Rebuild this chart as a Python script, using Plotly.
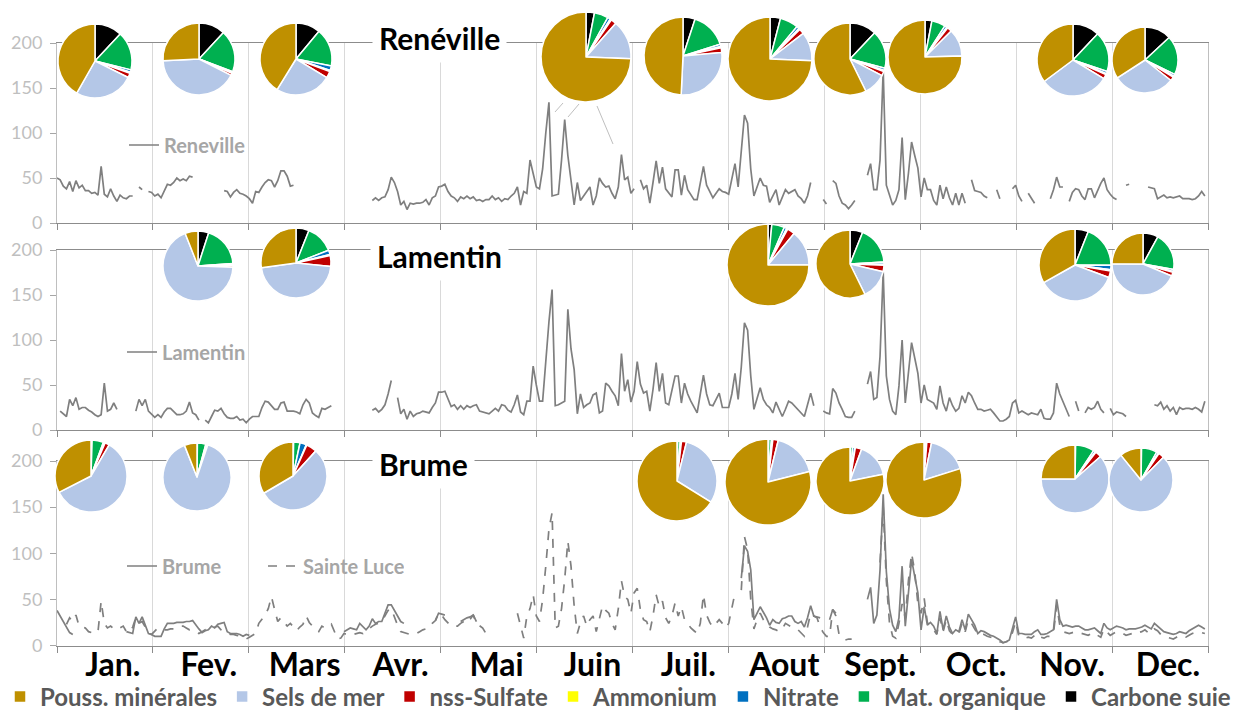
import plotly.graph_objects as go

W, H = 1235, 713

# ---------------- data ----------------
months = ["Jan.", "Fev.", "Mars", "Avr.", "Mai", "Juin", "Juil.", "Aout", "Sept.", "Oct.", "Nov.", "Dec."]
comp_labels = ["Pouss. minérales", "Sels de mer", "nss-Sulfate", "Ammonium", "Nitrate", "Mat. organique", "Carbone suie"]
comp_colors = ["#BF9000", "#B4C7E7", "#C00000", "#FFFF00", "#0070C0", "#00B050", "#000000"]

# daily concentrations (day of year, value); None = no data
reneville = [(0,50),(1,48),(2,41),(3,38),(4,46),(5,35),(6,47),(7,39),(8,42),(9,36),(10,36),(11,33),(12,34),(13,31),(14,63),(15,32),(16,29),(17,38),(18,30),(19,24),(20,31),(21,28),(22,27),(23,30),(24,30),(25,None),
 (26,40),(27,37),(28,None),(29,35),(30,34),(31,30),(32,32),(33,28),(34,35),(35,43),(36,42),(37,45),(38,50),(39,47),(40,49),(41,47),(42,52),(43,51),(44,None),
 (53,36),(54,35),(55,29),(56,34),(57,37),(58,33),(59,32),(60,30),(61,27),(62,22),(63,35),(64,34),(65,40),(66,45),(67,48),(68,47),(69,40),(70,47),(71,58),(72,58),(73,52),(74,41),(75,42),(76,None),
 (100,25),(101,28),(102,25),(103,28),(104,29),(105,37),(106,51),(107,45),(108,35),(109,20),(110,24),(111,15),(112,22),(113,21),(114,22),(115,22),(116,23),(117,26),(118,20),(119,28),(120,30),(121,40),(122,41),(123,43),(124,35),(125,30),(126,28),(127,24),(128,29),(129,27),(130,30),(131,27),(132,29),(133,25),(134,26),(135,24),(136,26),(137,26),(138,30),(139,26),(140,28),(141,24),(142,27),(143,26),(144,30),(145,33),(146,40),(147,20),(148,35),(149,33),(150,70),(151,55),(152,40),(153,38),(154,60),(155,100),(156,134),(157,30),(158,31),(159,32),(160,70),(161,115),(162,75),(163,50),(164,20),(165,45),(166,25),(167,30),(168,35),(169,40),(170,20),(171,30),(172,50),(173,44),(174,40),(175,41),(176,33),(177,27),(178,40),(179,76),(180,48),(181,51),(182,33),(183,38),(184,None),
 (185,48),(186,38),(187,42),(188,22),(189,45),(190,69),(191,44),(192,62),(193,38),(194,33),(195,29),(196,59),(197,59),(198,31),(199,53),(200,37),(201,32),(202,26),(203,26),(204,45),(205,63),(206,42),(207,35),(208,28),(209,33),(210,38),(211,35),(212,34),(213,32),(214,50),(215,66),(216,40),(217,80),(218,120),(219,111),(220,60),(221,30),(222,40),(223,50),(224,42),(225,41),(226,23),(227,30),(228,37),(229,20),(230,28),(231,37),(232,33),(233,35),(234,37),(235,30),(236,27),(237,22),(238,30),(239,45),(240,None),
 (243,26),(244,21),(245,None),(246,47),(247,44),(248,30),(249,22),(250,20),(251,16),(252,20),(253,25),(254,None),
 (257,53),(258,66),(259,37),(260,37),(261,70),(262,170),(263,42),(264,30),(265,20),(266,25),(267,37),(268,95),(269,26),(270,55),(271,90),(272,75),(273,61),(274,29),(275,50),(276,37),(277,37),(278,25),(279,20),(280,42),(281,27),(282,40),(283,28),(284,20),(285,33),(286,20),(287,33),(288,22),(289,None),
 (290,48),(291,36),(292,35),(293,34),(294,30),(295,28),(296,None),(298,37),(299,27),(300,None),(303,38),(304,42),(305,30),(306,24),(307,None),(308,33),(309,28),(310,22),(311,None),
 (315,27),(316,37),(317,51),(318,40),(319,40),(320,None),(321,24),(322,34),(323,38),(324,37),(325,30),(326,26),(327,38),(328,38),(329,28),(330,37),(331,44),(332,50),(333,37),(334,32),(335,28),(336,26),(337,None),
 (339,42),(340,43),(341,None),(346,40),(347,39),(348,38),(349,27),(350,29),(351,31),(352,28),(353,29),(354,28),(355,29),(356,30),(357,27),(358,27),(359,27),(360,26),(361,27),(362,30),(363,35),(364,30)]

lamentin = [(1,21),(2,18),(3,15),(4,34),(5,27),(6,36),(7,23),(8,25),(9,25),(10,22),(11,20),(12,17),(13,15),(14,17),(15,52),(16,21),(17,23),(18,30),(19,23),(20,None),
 (25,21),(26,34),(27,27),(28,34),(29,21),(30,17),(31,14),(32,17),(33,14),(34,20),(35,24),(36,24),(37,20),(38,17),(39,17),(40,18),(41,21),(42,31),(43,19),(44,17),(45,11),(46,None),
 (47,11),(48,8),(49,15),(50,22),(51,21),(52,24),(53,18),(54,14),(55,13),(56,13),(57,15),(58,11),(59,12),(60,8),(61,12),(62,15),(63,15),(64,15),(65,25),(66,32),(67,31),(68,27),(69,23),(70,23),(71,30),(72,31),(73,21),(74,21),(75,21),(76,20),(77,18),(78,28),(79,34),(80,30),(81,19),(82,16),(83,14),(84,24),(85,23),(86,25),(87,27),(88,None),
 (100,22),(101,24),(102,20),(103,23),(104,28),(105,40),(106,55),(107,None),
 (108,36),(109,18),(110,23),(111,12),(112,21),(113,15),(114,18),(115,19),(116,21),(117,20),(118,19),(119,25),(120,30),(121,42),(122,42),(123,43),(124,34),(125,26),(126,28),(127,23),(128,27),(129,23),(130,27),(131,25),(132,27),(133,28),(134,21),(135,20),(136,19),(137,18),(138,21),(139,24),(140,21),(141,28),(142,27),(143,22),(144,20),(145,28),(146,39),(147,20),(148,17),(149,32),(150,32),(151,71),(152,50),(153,32),(154,32),(155,80),(156,120),(157,156),(158,27),(159,28),(160,30),(161,32),(162,134),(163,90),(164,67),(165,18),(166,40),(167,25),(168,28),(169,30),(170,39),(171,41),(172,19),(173,21),(174,52),(175,49),(176,43),(177,38),(178,27),(179,85),(180,43),(181,56),(182,31),(183,43),(184,76),(185,51),(186,41),(187,43),(188,21),(189,45),(190,75),(191,43),(192,63),(193,30),(194,28),(195,45),(196,60),(197,60),(198,30),(199,52),(200,40),(201,32),(202,25),(203,19),(204,40),(205,61),(206,40),(207,28),(208,27),(209,35),(210,41),(211,25),(212,25),(213,25),(214,40),(215,63),(216,34),(217,70),(218,119),(219,111),(220,60),(221,23),(222,35),(223,47),(224,34),(225,28),(226,25),(227,19),(228,31),(229,22),(230,15),(231,23),(232,32),(233,30),(234,26),(235,22),(236,18),(237,15),(238,28),(239,41),(240,27),(241,None),
 (243,21),(244,19),(245,18),(246,46),(247,41),(248,30),(249,23),(250,15),(251,14),(252,14),(253,21),(254,None),
 (257,51),(258,65),(259,34),(260,36),(261,82),(262,176),(263,60),(264,34),(265,21),(266,17),(267,49),(268,100),(269,30),(270,60),(271,97),(272,80),(273,63),(274,30),(275,50),(276,34),(277,32),(278,30),(279,23),(280,49),(281,30),(282,21),(283,36),(284,27),(285,21),(286,24),(287,38),(288,30),(289,42),(290,38),(291,30),(292,23),(293,23),(294,21),(295,22),(296,23),(297,19),(298,15),(299,10),(300,10),(301,12),(302,15),(303,30),(304,33),(305,19),(306,21),(307,19),(308,17),(309,19),(310,18),(311,17),(312,23),(313,13),(314,12),(315,12),(316,19),(317,52),(318,40),(319,32),(320,23),(321,15),(322,None),
 (323,32),(324,21),(325,None),(326,19),(327,25),(328,23),(329,25),(330,32),(331,23),(332,19),(333,None),(334,24),(335,17),(336,20),(337,19),(338,18),(339,15),(340,None),
 (348,28),(349,27),(350,31),(351,23),(352,27),(353,21),(354,25),(355,17),(356,25),(357,23),(358,24),(359,24),(360,23),(361,25),(362,23),(363,20),(364,32)]

brume = [(0,38),(1,32),(2,26),(3,20),(4,14),(5,12),(6,None),
 (22,15),(23,14),(24,13),(25,31),(26,24),(27,31),(28,21),(29,13),(30,12),(31,10),(32,10),(33,10),(34,18),(35,24),(36,24),(37,24),(38,25),(39,25),(40,25),(41,26),(42,26),(43,27),(44,22),(45,18),(46,14),(47,16),(48,17),(49,21),(50,19),(51,23),(52,24),(53,25),(54,15),(55,13),(56,13),(57,13),(58,12),(59,10),(60,12),(61,11),(62,None),
 (91,15),(92,17),(93,19),(94,18),(95,17),(96,24),(97,20),(98,17),(99,21),(100,29),(101,24),(102,26),(103,26),(104,35),(105,44),(106,44),(107,38),(108,33),(109,26),(110,24),(111,None),
 (120,27),(121,35),(122,34),(123,33),(124,None),(128,26),(129,28),(130,30),(131,31),(132,33),(133,26),(134,None),
 (217,73),(218,108),(219,102),(220,82),(221,28),(222,35),(223,42),(224,36),(225,30),(226,22),(227,28),(228,25),(229,24),(230,29),(231,30),(232,32),(233,32),(234,26),(235,24),(236,26),(237,20),(238,30),(239,43),(240,32),(241,31),(242,30),(243,None),
 (245,28),(246,39),(247,35),(248,None),
 (257,50),(258,63),(259,24),(260,33),(261,82),(262,164),(263,80),(264,40),(265,22),(266,15),(267,30),(268,86),(269,21),(270,55),(271,93),(272,75),(273,57),(274,17),(275,42),(276,22),(277,25),(278,21),(279,13),(280,37),(281,17),(282,32),(283,20),(284,13),(285,17),(286,15),(287,28),(288,17),(289,34),(290,28),(291,22),(292,13),(293,16),(294,15),(295,13),(296,11),(297,10),(298,8),(299,6),(300,3),(301,4),(302,6),(303,18),(304,31),(305,13),(306,13),(307,12),(308,12),(309,12),(310,15),(311,17),(312,12),(313,12),(314,13),(315,15),(316,17),(317,50),(318,28),(319,21),(320,22),(321,21),(322,20),(323,21),(324,21),(325,19),(326,17),(327,17),(328,18),(329,19),(330,16),(331,13),(332,24),(333,19),(334,17),(335,19),(336,21),(337,20),(338,19),(339,17),(340,18),(341,18),(342,18),(343,19),(344,20),(345,22),(346,20),(347,18),(348,24),(349,21),(350,17),(351,15),(352,14),(353,13),(354,12),(355,13),(356,15),(357,14),(358,13),(359,16),(360,18),(361,20),(362,22),(363,20),(364,18)]

sainte_luce = [(3,23),(4,30),(5,26),(6,33),(7,21),(8,20),(9,19),(10,15),(11,14),(12,13),(13,15),(14,48),(15,24),(16,19),(17,21),(18,18),(19,17),(20,19),(21,21),(22,15),(23,14),(24,20),(25,30),(26,24),(27,26),(28,20),(29,13),(30,12),(31,15),(32,19),(33,18),(34,17),(35,17),(36,18),(37,18),(38,19),(39,21),(40,21),(41,19),(42,17),(43,17),(44,15),(45,13),(46,15),(47,17),(48,18),(49,19),(50,20),(51,21),(52,17),(53,15),(54,13),(55,12),(56,12),(57,11),(58,10),(59,8),(60,7),(61,9),(62,11),(63,13),(64,24),(65,28),(66,33),(67,40),(68,53),(69,39),(70,26),(71,30),(72,25),(73,21),(74,24),(75,20),(76,16),(77,20),(78,23),(79,32),(80,25),(81,21),(82,17),(83,15),(84,21),(85,19),(86,20),(87,23),(88,15),(89,7),(90,8),(91,13),(92,12),(93,13),(94,12),(95,13),(96,14),(97,13),(98,16),(99,19),(100,21),(101,23),(102,24),(103,26),(104,32),(105,38),(106,40),(107,30),(108,22),(109,15),(110,14),(111,13),(112,12),(113,12),(114,13),(115,15),(116,17),(117,18),(118,19),(119,24),(120,27),(121,35),(122,33),(123,28),(124,24),(125,21),(126,21),(127,21),(128,24),(129,26),(130,24),(131,28),(132,33),(133,24),(134,21),(135,19),(136,13),(137,None),
 (146,35),(147,21),(148,8),(149,32),(150,40),(151,55),(152,32),(153,26),(154,50),(155,86),(156,126),(157,144),(158,19),(159,21),(160,40),(161,72),(162,113),(163,86),(164,43),(165,13),(166,25),(167,32),(168,21),(169,28),(170,32),(171,15),(172,30),(173,43),(174,38),(175,35),(176,24),(177,17),(178,40),(179,70),(180,53),(181,50),(182,35),(183,57),(184,62),(185,39),(186,28),(187,26),(188,15),(189,32),(190,55),(191,42),(192,48),(193,30),(194,24),(195,32),(196,46),(197,32),(198,42),(199,28),(200,24),(201,19),(202,16),(203,13),(204,24),(205,55),(206,33),(207,25),(208,20),(209,24),(210,28),(211,24),(212,19),(213,24),(214,39),(215,57),(216,None),
 (217,60),(218,118),(219,104),(220,50),(221,18),(222,28),(223,35),(224,28),(225,24),(226,20),(227,18),(228,17),(229,15),(230,18),(231,24),(232,22),(233,20),(234,18),(235,17),(236,14),(237,10),(238,20),(239,35),(240,32),(241,30),(242,20),(243,14),(244,10),(245,10),(246,39),(247,32),(248,12),(249,9),(250,6),(251,7),(252,7),(253,None),
 (261,90),(262,150),(263,70),(264,24),(265,10),(266,8),(267,24),(268,45),(269,30),(270,70),(271,100),(272,80),(273,45),(274,35),(275,51),(276,25),(277,20),(278,17),(279,12),(280,30),(281,15),(282,28),(283,16),(284,12),(285,14),(286,13),(287,24),(288,15),(289,28),(290,24),(291,18),(292,12),(293,13),(294,12),(295,10),(296,9),(297,8),(298,6),(299,4),(300,3),(301,4),(302,5),(303,14),(304,26),(305,10),(306,9),(307,8),(308,9),(309,8),(310,11),(311,13),(312,9),(313,8),(314,10),(315,10),(316,13),(317,44),(318,22),(319,15),(320,14),(321,13),(322,14),(323,15),(324,14),(325,13),(326,12),(327,11),(328,13),(329,14),(330,11),(331,9),(332,18),(333,14),(334,11),(335,13),(336,15),(337,14),(338,13),(339,11),(340,12),(341,13),(342,12),(343,14),(344,15),(345,17),(346,14),(347,13),(348,18),(349,16),(350,12),(351,10),(352,9),(353,8),(354,7),(355,9),(356,11),(357,10),(358,9),(359,11),(360,13),(361,14),(362,15),(363,14),(364,13)]

# composition pies (order of comp_labels), in %
ren_pies = [[42, 26, 2, 0.5, 1, 17, 12], [26, 42, 1, 0.3, 0.5, 19, 12], [41, 25, 3, 0.5, 2, 17, 11],
            [74, 14, 2, 0.5, 1, 5, 3], [49, 27, 2, 0.5, 1, 15, 5], [74, 11, 2, 0.5, 1, 7, 4],
            [57, 10, 2, 0.5, 1, 17, 12], [75, 12, 2, 0.5, 1, 6, 3], [35, 31, 2, 0.5, 1, 18, 12],
            [34, 30, 2, 0.5, 1, 19, 13]]
lam_pies = [[6, 69, 1, 0.3, 0.5, 19, 5], [27, 46, 5, 0.5, 2, 13, 6], [75, 14, 3, 0.5, 1, 5, 1.5],
            [57, 14, 3, 0.5, 1, 18, 6], [33, 36, 3, 0.5, 2, 19, 6], [25, 44, 2, 0.5, 1, 20, 8]]
bru_pies = [[32, 58, 2, 0.3, 0.5, 5, 0.5], [6, 89, 0.5, 0.2, 0.3, 4, 0.2], [33, 54, 5, 0.3, 3, 3, 0.3],
            [66, 30, 2, 0.2, 0.3, 1, 0.3], [78, 17, 2, 0.2, 0.3, 1, 0.3], [77, 16, 3, 0.2, 1, 1, 0.3],
            [80, 17, 2, 0.2, 0.3, 0.5, 0.2], [25, 62, 3, 0.3, 1, 9, 0.3], [11, 78, 3, 0.3, 1, 8, 0.3]]

# ---------------- layout positions (pixels) ----------------
ren_pos = [(95, 61, 37), (199, 59, 36), (296, 59, 36), (586, 57, 45), (683, 56, 39), (770, 59, 42),
           (850, 59, 36), (925, 57, 37), (1073, 60, 36), (1145, 60, 33)]
lam_pos = [(198, 266, 35), (296, 263, 35), (768, 265, 41), (850, 264, 34), (1075, 265, 36), (1143, 264, 31)]
bru_pos = [(91, 476, 36), (197, 477, 34), (293, 476, 34), (677, 481, 40), (768, 482, 43), (850, 481, 34),
           (924, 480, 38), (1075, 479, 34), (1141, 480, 32)]
# thin leader lines under the June pie (pixels: x0, y0, x1, y1)
leader_lines = [(563, 103, 555, 112), (579, 104, 568, 117), (597, 106, 613, 144)]

FONT = "Lato"
LINE_COL = "#7F7F7F"

def unzip(pairs):
    return [p[0] for p in pairs], [p[1] for p in pairs]

fig = go.Figure()

series = [
    (reneville, "Reneville", "x", "y", "legend", "solid"),
    (lamentin, "Lamentin", "x2", "y2", "legend2", "solid"),
    (brume, "Brume", "x3", "y3", "legend3", "solid"),
    (sainte_luce, "Sainte Luce", "x3", "y3", "legend3", "dash"),
]
for pairs, name, xa, ya, lg, dash in series:
    xs, ys = unzip(pairs)
    fig.add_trace(go.Scatter(x=xs, y=ys, mode="lines", name=name, xaxis=xa, yaxis=ya,
                             legend=lg, showlegend=True, connectgaps=False, hoverinfo="skip",
                             line=dict(color=LINE_COL, width=1.7, dash=dash)))

# slices drawn clockwise from 12 o'clock in reversed order -> Excel-like layout
rev_labels = comp_labels[::-1]
rev_colors = comp_colors[::-1]
for vals_list, pos_list in [(ren_pies, ren_pos), (lam_pies, lam_pos), (bru_pies, bru_pos)]:
    for vals, (cx, cy, r) in zip(vals_list, pos_list):
        fig.add_trace(go.Pie(
            labels=rev_labels, values=vals[::-1], sort=False, direction="clockwise", rotation=0,
            textinfo="none", hoverinfo="label+percent", legend="legend4", showlegend=True,
            marker=dict(colors=rev_colors, line=dict(color="white", width=1.5)),
            domain=dict(x=[(cx - r) / W, (cx + r) / W], y=[1 - (cy + r) / H, 1 - (cy - r) / H])))

xdom = [57 / W, 1208 / W]
ydoms = [[1 - 223 / H, 1 - 43 / H], [1 - 430 / H, 1 - 250 / H], [1 - 645.5 / H, 1 - 461 / H]]
month_label_pos = [(i + 0.5) * 365 / 12 + 2.5 for i in range(12)]

layout = dict(
    width=W, height=H, autosize=False, showlegend=True,
    margin=dict(l=0, r=0, t=0, b=0, autoexpand=False),
    paper_bgcolor="white", plot_bgcolor="white",
    font=dict(family=FONT),
)
for i in range(3):
    sfx = "" if i == 0 else str(i + 1)
    layout["xaxis" + sfx] = dict(
        domain=xdom, range=[0, 365], anchor="y" + sfx,
        tickmode="array", tickvals=month_label_pos, ticktext=months,
        showticklabels=(i == 2), ticks="", showgrid=False, zeroline=False,
        tickfont=dict(family=FONT, size=32, color="black", weight="bold"),
        ticklabelstandoff=-9,
        showline=True, linecolor="#8C8C8C", linewidth=1.2, mirror=True,
        minor=dict(tickmode="linear", tick0=0, dtick=365 / 12, showgrid=True,
                   gridcolor="#D9D9D9", gridwidth=1, ticks="outside", ticklen=6,
                   tickcolor="#8C8C8C", tickwidth=1),
        fixedrange=True,
    )
    layout["yaxis" + sfx] = dict(
        domain=ydoms[i], range=[0, 200], anchor="x" + sfx,
        tickmode="array", tickvals=[0, 50, 100, 150, 200],
        showgrid=False, zeroline=False, ticks="outside", ticklen=6,
        tickcolor="#A6A6A6", tickfont=dict(family=FONT, size=18, color="#BFBFBF"),
        ticklabelstandoff=4,
        showline=True, linecolor="#BFBFBF", linewidth=1, mirror=True, fixedrange=True,
    )

leg_font = dict(family=FONT, size=20, color="#A6A6A6", weight="bold")
layout["legend"] = dict(x=124 / W, y=1 - 145 / H, xanchor="left", yanchor="middle",
                        bgcolor="rgba(0,0,0,0)", font=leg_font, itemwidth=30)
layout["legend2"] = dict(x=122 / W, y=1 - 352 / H, xanchor="left", yanchor="middle",
                         bgcolor="rgba(0,0,0,0)", font=leg_font, itemwidth=30)
layout["legend3"] = dict(x=122 / W, y=1 - 566 / H, xanchor="left", yanchor="middle",
                         orientation="h", bgcolor="rgba(0,0,0,0)", font=leg_font, itemwidth=30,
                         entrywidth=96, entrywidthmode="pixels")
layout["legend4"] = dict(x=0, y=1 - 697 / H, xanchor="left", yanchor="middle",
                         orientation="h", bgcolor="rgba(0,0,0,0)", itemwidth=30,
                         traceorder="reversed",
                         font=dict(family=FONT, size=24, color="#595959", weight="bold"))

title_font = dict(family=FONT, size=30, color="black", weight="bold")
layout["annotations"] = [
    dict(text="Renéville", x=440 / W, y=1 - 38 / H, xref="paper", yref="paper", showarrow=False,
         xanchor="center", yanchor="middle", font=title_font, bgcolor="white", borderpad=6),
    dict(text="Lamentin", x=440 / W, y=1 - 256 / H, xref="paper", yref="paper", showarrow=False,
         xanchor="center", yanchor="middle", font=title_font, bgcolor="white", borderpad=6),
    dict(text="Brume", x=423 / W, y=1 - 464 / H, xref="paper", yref="paper", showarrow=False,
         xanchor="center", yanchor="middle", font=title_font, bgcolor="white", borderpad=6),
]
layout["shapes"] = [
    dict(type="line", xref="paper", yref="paper", x0=a / W, y0=1 - b / H, x1=c / W, y1=1 - d / H,
         line=dict(color="#BFBFBF", width=1), layer="below")
    for a, b, c, d in leader_lines
]

fig.update_layout(**layout)
fig.write_html("out.html", config={"displayModeBar": False},
               post_script="document.body.style.margin='0px';document.body.style.overflow='hidden';")
